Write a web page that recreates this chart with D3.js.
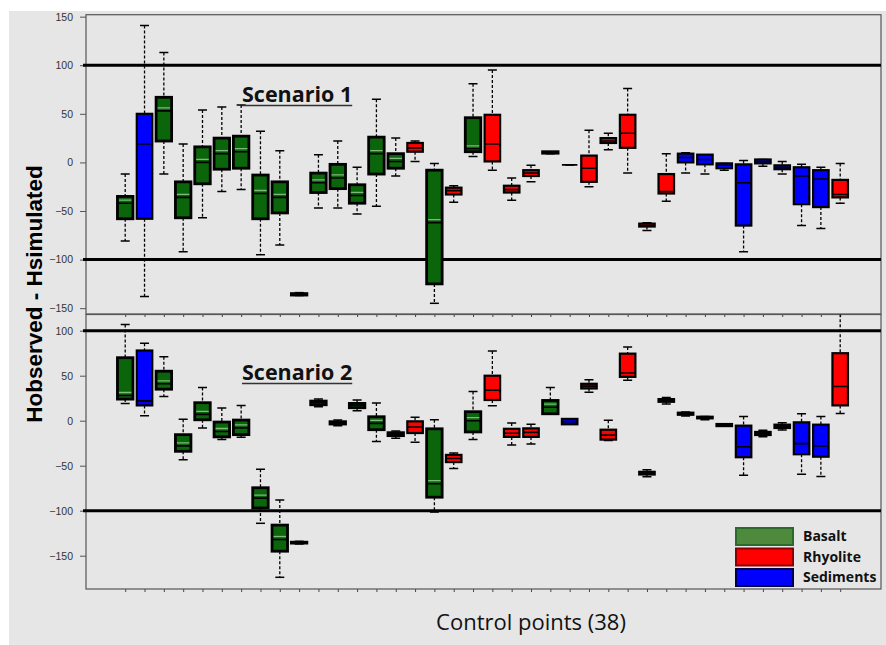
<!DOCTYPE html>
<html>
<head>
<meta charset="utf-8">
<script src="https://cdn.jsdelivr.net/npm/d3@7"></script>
<style>
  body { margin: 0; background: #fff; }
  svg { display: block; }
</style>
</head>
<body>
<div id="chart"></div>
<script>
// Control points 1..38 and their rock type
var pointIds = d3.range(1, 39);
var rockType = ["Basalt", "Sediments", "Basalt", "Basalt", "Basalt", "Basalt", "Basalt", "Basalt", "Basalt", "Basalt",
  "Basalt", "Basalt", "Basalt", "Basalt", "Basalt", "Rhyolite", "Basalt", "Rhyolite", "Basalt", "Rhyolite",
  "Rhyolite", "Rhyolite", "Basalt", "Sediments", "Rhyolite", "Rhyolite", "Rhyolite", "Rhyolite", "Rhyolite", "Sediments",
  "Sediments", "Sediments", "Sediments", "Sediments", "Sediments", "Sediments", "Sediments", "Rhyolite"];

// Scenario 1 : whisker low, Q1, median, Q3, whisker high
var s1Low = [-81, -138, -12, -92, -57, -30, -28, -95, -85, -137, -47, -47, -53, -45, -14, 1, -145, -41, 6, -8,
  -39, -20, 9, -2.5, -25, 13, -11, -70, -40, -11, -12, -8, -92, -4, -12, -65, -68, -42];
var s1Q1 = [-58, -58, 22, -57, -22, -7, -6, -58, -52, -136.5, -31, -27, -42, -12, -6, 11, -125, -33, 11, 1,
  -31, -14, 9.5, -2.5, -20, 20, 15, -66, -32, 0, -2, -6, -65, -1, -7, -43, -46, -36];
var s1Median = [-42, 19, 53, -36, 0, 9, 11, -32, -36, -136, -21, -16, -34, 9, 1, 15, -62, -29, 14, 19,
  -28, -11, 10, -2.5, -6, 22, 30, -65, -30, 5, 3, -3, -21, 1, -5, -14, -17, -33];
var s1Q3 = [-35, 50, 67, -20, 16, 25, 27, -13, -20, -135, -11, -2, -23, 26, 9, 20, -8, -26, 46, 49,
  -24, -8, 11, -2.5, 7, 25, 49, -63, -12, 9, 8, -1, -2, 3, -3, -5, -8, -18];
var s1High = [-12, 141, 113, 19, 54, 57, 59, 32, 12, -134, 8, 22, -5, 65, 25, 22, -1, -24, 81, 95,
  -16, -3, 11, -2.5, 33, 30, 76, -62, 9, 10, 8, -1, 2, 3, 1, -2, -5, -1];

// Scenario 2
var s2Low = [19, 5.5, 27, -43.5, -8, -21, -18.5, -114, -174, -137, 15.5, -5.5, 11, -23, -19.6, -24, -101.5, -53, -21, 16.6,
  -27, -26, 7.4, -4, 31.7, -22, 45, -62.4, 18.5, 5.2, 1.1, -6.3, -60.5, -17.7, -10.3, -59.4, -62, 8];
var s2Q1 = [24, 17, 35, -34, 1, -18, -15.5, -97, -145, -136, 17.7, -3.7, 14.4, -10, -16.6, -13.7, -85, -46, -12.5, 23,
  -18, -18, 7.7, -4, 35.8, -21, 48.7, -59.8, 21, 6.6, 2.6, -6, -40.6, -15.9, -8.1, -37.3, -40, 17];
var s2Median = [28, 22, 41, -28, 7, -12, -8, -86, -132, -135.5, 20, -2.2, 17, -3, -15, -7, -70, -42, 0, 34,
  -14, -13, 15, -1, 38.4, -16, 53, -58.3, 22.9, 7.7, 3.7, -4.8, -29, -14, -6.3, -25.5, -28, 38];
var s2Q3 = [70, 78, 55, -15.5, 20, -1.5, 0.7, -74.5, -116, -135, 21.8, -1.1, 19.2, 4.4, -13.3, -0.7, -9, -38, 10, 50,
  -9, -8.5, 22.5, 2, 41, -10, 74.5, -56.8, 24, 8.9, 4.4, -3.7, -5.5, -12.5, -4.4, -1.8, -4.4, 75];
var s2High = [107, 86, 71, 1.5, 37, 14, 17, -54, -88, -134, 24, 0.7, 23, 19.6, -11.4, 3.7, 1, -36, 32.5, 77.5,
  -2.6, -4, 37, 2, 45.4, 0.4, 82, -54.6, 25.8, 9.6, 4.8, -3.5, 4.8, -10.7, -2.2, 7.7, 4.8, 135];

var legendLabels = ["Basalt", "Rhyolite", "Sediments"];
var fillColors = { Basalt: "#0b650b", Rhyolite: "#ff0000", Sediments: "#0000ff" };
var legendFill = { Basalt: "#4f8a3c", Rhyolite: "#ff0000", Sediments: "#0000ff" };
var legendStroke = { Basalt: "#2c6a2c", Rhyolite: "#8a0000", Sediments: "#00004a" };

var svgWidth = 886;
var svgHeight = 645;

var svg = d3.select("#chart")
  .append("svg")
  .attr("width", svgWidth)
  .attr("height", svgHeight)
  .style("font-family", "'Liberation Sans', Arial, sans-serif");

// gray frame
svg.append("rect")
  .attr("x", 9).attr("y", 11)
  .attr("width", svgWidth - 9).attr("height", svgHeight - 11)
  .attr("fill", "#e6e6e6");

var plotLeft = 86, plotRight = 881;

var x = d3.scalePoint()
  .domain(d3.range(38))
  .range([plotLeft, plotRight])
  .padding(2.07)
  .align(0.49);

var boxW = 15.5;

function buildRows(low, q1, med, q3, high) {
  return pointIds.map(function(id, i) {
    return { i: i, id: id, type: rockType[i], low: low[i], q1: q1[i], med: med[i], q3: q3[i], high: high[i] };
  });
}

var panels = [
  { name: "s1", top: 14.7, bottom: 314, domain: [-156, 152], ticks: [-150, -100, -50, 0, 50, 100, 150],
    label: "Scenario 1", labelY: 102, rows: buildRows(s1Low, s1Q1, s1Median, s1Q3, s1High) },
  { name: "s2", top: 314.5, bottom: 589, domain: [-187, 118], ticks: [-150, -100, -50, 0, 50, 100],
    label: "Scenario 2", labelY: 380, rows: buildRows(s2Low, s2Q1, s2Median, s2Q3, s2High) }
];

panels.forEach(function(p) {
  var y = d3.scaleLinear().domain(p.domain).range([p.bottom, p.top]);
  var g = svg.append("g");

  svg.append("clipPath").attr("id", "clip-" + p.name)
    .append("rect")
    .attr("x", plotLeft - 4).attr("y", p.top)
    .attr("width", plotRight - plotLeft + 8).attr("height", p.bottom - p.top);

  // y axis
  var yAxis = g.append("g")
    .attr("transform", `translate(${plotLeft},0)`)
    .call(d3.axisLeft(y).tickValues(p.ticks).tickSize(6).tickPadding(7));
  yAxis.select(".domain").remove();
  yAxis.selectAll(".tick line").attr("stroke", "#555");
  yAxis.selectAll("text").attr("font-size", "10.5px").attr("fill", "#333")
    .attr("font-family", "'Liberation Sans', Arial, sans-serif");

  // x ticks
  var xAxis = g.append("g")
    .attr("transform", `translate(0,${p.bottom})`)
    .call(d3.axisBottom(x).tickSize(3).tickFormat(""));
  xAxis.select(".domain").remove();
  xAxis.selectAll(".tick line").attr("stroke", "#444");

  // frame
  g.append("rect")
    .attr("x", plotLeft).attr("y", p.top)
    .attr("width", plotRight - plotLeft).attr("height", p.bottom - p.top)
    .attr("fill", "none").attr("stroke", "#555").attr("stroke-width", 1.2);

  var inner = g.append("g").attr("clip-path", `url(#clip-${p.name})`);

  // +/-100 limits
  inner.selectAll(".limit")
    .data([100, -100])
    .enter().append("line")
    .attr("x1", plotLeft - 3).attr("x2", plotRight)
    .attr("y1", d => y(d)).attr("y2", d => y(d))
    .attr("stroke", "#000").attr("stroke-width", 3);

  var box = inner.selectAll(".box")
    .data(p.rows)
    .enter().append("g")
    .attr("transform", d => `translate(${x(d.i)},0)`);

  // whiskers
  box.append("line")
    .attr("y1", d => y(d.high)).attr("y2", d => y(d.q3))
    .attr("stroke", "#000").attr("stroke-width", 1.3).attr("stroke-dasharray", "3,2");
  box.append("line")
    .attr("y1", d => y(d.q1)).attr("y2", d => y(d.low))
    .attr("stroke", "#000").attr("stroke-width", 1.3).attr("stroke-dasharray", "3,2");
  box.append("line")
    .attr("x1", -4.5).attr("x2", 4.5)
    .attr("y1", d => y(d.high)).attr("y2", d => y(d.high))
    .attr("stroke", "#000").attr("stroke-width", 1.5);
  box.append("line")
    .attr("x1", -4.5).attr("x2", 4.5)
    .attr("y1", d => y(d.low)).attr("y2", d => y(d.low))
    .attr("stroke", "#000").attr("stroke-width", 1.5);

  // box
  box.append("rect")
    .attr("x", -boxW / 2).attr("width", boxW)
    .attr("y", d => y(d.q3))
    .attr("height", d => Math.max(0, y(d.q1) - y(d.q3)))
    .attr("fill", d => fillColors[d.type])
    .attr("stroke", "#000")
    .attr("stroke-width", d => d.type === "Basalt" ? 2.8 : 2.2);

  // median (basalt boxes show a light line next to the dark one)
  box.append("line")
    .attr("x1", -boxW / 2).attr("x2", boxW / 2)
    .attr("y1", d => y(d.med)).attr("y2", d => y(d.med))
    .attr("stroke", "#000").attr("stroke-width", 1.6);
  box.filter(d => d.type === "Basalt" && y(d.q1) - y(d.q3) > 8)
    .append("line")
    .attr("x1", -boxW / 2 + 1.5).attr("x2", boxW / 2 - 1.5)
    .attr("y1", d => y(d.med) - 3).attr("y2", d => y(d.med) - 3)
    .attr("stroke", "#7fb87f").attr("stroke-width", 1.3);

  // scenario title, underlined
  var title = svg.append("text")
    .attr("x", 242).attr("y", p.labelY)
    .attr("font-family", "'Open Sans', sans-serif")
    .attr("font-weight", "bold")
    .attr("font-size", "21.5px")
    .attr("fill", "#111")
    .text(p.label);
  var tw = title.node().getComputedTextLength();
  svg.append("line")
    .attr("x1", 242).attr("x2", 242 + tw)
    .attr("y1", p.labelY + 3.5).attr("y2", p.labelY + 3.5)
    .attr("stroke", "#333").attr("stroke-width", 1.4);
});

// y label
svg.append("text")
  .attr("transform", "translate(42,294) rotate(-90)")
  .attr("text-anchor", "middle")
  .attr("font-weight", "bold")
  .attr("font-size", "22.5px")
  .attr("fill", "#000")
  .text("Hobserved - Hsimulated");

// x label
svg.append("text")
  .attr("x", 531).attr("y", 630)
  .attr("text-anchor", "middle")
  .attr("font-family", "'Open Sans', sans-serif")
  .attr("font-size", "22px")
  .attr("fill", "#111")
  .text("Control points (38)");

// legend
var legend = svg.append("g").attr("transform", "translate(736,528)");
var lg = legend.selectAll("g")
  .data(legendLabels)
  .enter().append("g")
  .attr("transform", (d, i) => `translate(0,${i * 20.5})`);
lg.append("rect")
  .attr("width", 57).attr("height", 17)
  .attr("fill", d => legendFill[d])
  .attr("stroke", d => legendStroke[d])
  .attr("stroke-width", 2);
lg.append("text")
  .attr("x", 67).attr("y", 13)
  .attr("font-family", "'Open Sans', sans-serif")
  .attr("font-weight", "bold")
  .attr("font-size", "14px")
  .attr("fill", "#111")
  .text(d => d);
</script>
</body>
</html>
